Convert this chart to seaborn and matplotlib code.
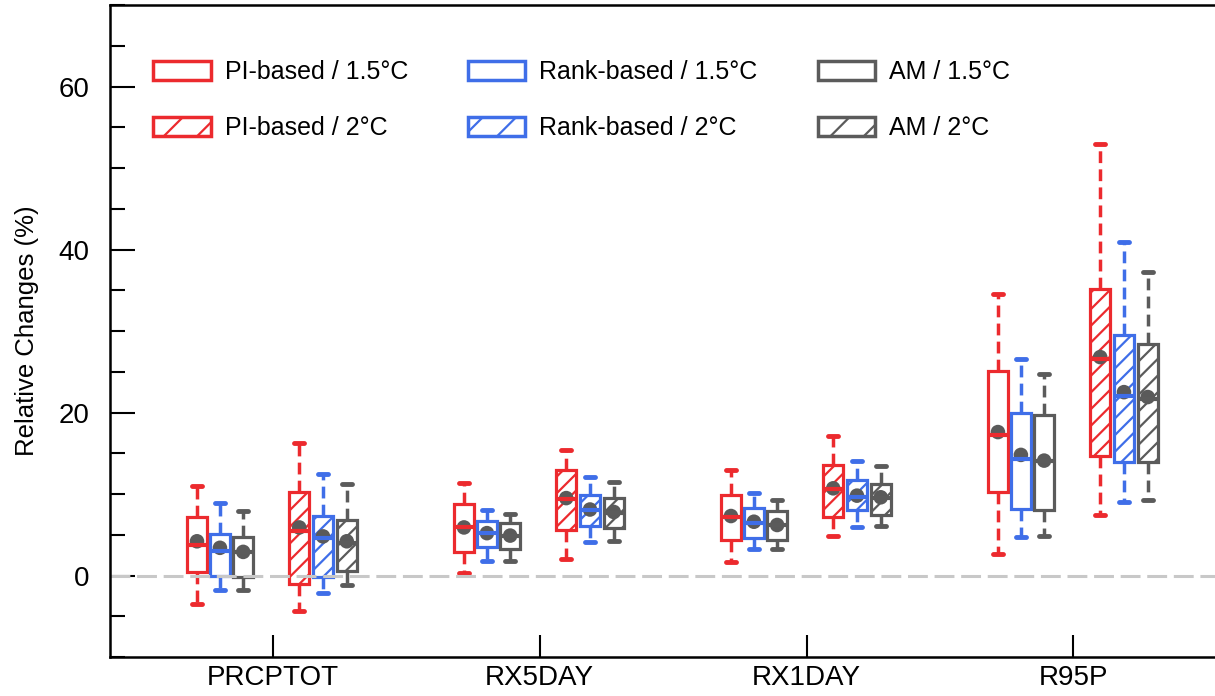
import numpy as np
import pandas as pd
import matplotlib.pyplot as plt
import matplotlib.patches as mpatches
from matplotlib.ticker import MultipleLocator
import seaborn as sns

# ── Data ──────────────────────────────────────────────────
INDICES = ["PRCPTOT", "RX5DAY", "RX1DAY", "R95P"]

# each box: (lower whisker, q1, median, q3, upper whisker), one per index
PI_15 = [(-3.5, 0.4, 3.8, 7.2, 11.0), (0.3, 2.9, 5.9, 8.8, 11.3),
         (1.6, 4.3, 7.2, 9.9, 13.0), (2.7, 10.2, 17.2, 25.1, 34.6)]
RANK_15 = [(-1.8, 0.0, 3.0, 5.1, 8.9), (1.8, 3.5, 5.2, 6.7, 8.0),
           (3.2, 4.6, 6.4, 8.3, 10.1), (4.7, 8.2, 14.3, 20.0, 26.6)]
AM_15 = [(-1.8, -0.2, 2.9, 4.7, 7.9), (1.8, 3.3, 4.9, 6.5, 7.6),
         (3.3, 4.3, 6.2, 7.9, 9.3), (4.9, 8.0, 14.0, 19.7, 24.7)]
PI_20 = [(-4.3, -1.1, 5.5, 10.3, 16.2), (2.0, 5.6, 9.4, 12.9, 15.4),
         (4.9, 7.2, 10.6, 13.6, 17.1), (7.4, 14.7, 26.6, 35.2, 53.0)]
RANK_20 = [(-2.2, -0.2, 4.6, 7.3, 12.5), (4.1, 6.1, 8.0, 9.9, 12.1),
           (5.9, 8.0, 9.6, 11.7, 14.0), (9.0, 13.9, 22.0, 29.5, 40.9)]
AM_20 = [(-1.2, 0.6, 4.0, 6.8, 11.2), (4.2, 5.8, 7.7, 9.5, 11.5),
         (6.1, 7.4, 9.5, 11.2, 13.4), (9.3, 13.9, 21.7, 28.4, 37.3)]

PI_15_MEAN = [4.2, 5.9, 7.3, 17.6]
RANK_15_MEAN = [3.4, 5.2, 6.6, 14.8]
AM_15_MEAN = [2.9, 4.9, 6.2, 14.1]
PI_20_MEAN = [5.9, 9.5, 10.7, 26.8]
RANK_20_MEAN = [4.8, 8.1, 9.8, 22.5]
AM_20_MEAN = [4.2, 7.8, 9.6, 21.9]

# ── Style ─────────────────────────────────────
RED, BLUE, GREY = "#EC2A2E", "#3F6EE8", "#5B5B5B"
DOT = "#5A5A5A"

SERIES = [
    # label, boxes, means, colour, hatch, offset
    ("PI-based / 1.5°C", PI_15, PI_15_MEAN, RED, "", -0.283),
    ("Rank-based / 1.5°C", RANK_15, RANK_15_MEAN, BLUE, "", -0.197),
    ("AM / 1.5°C", AM_15, AM_15_MEAN, GREY, "", -0.110),
    ("PI-based / 2°C", PI_20, PI_20_MEAN, RED, "//", 0.100),
    ("Rank-based / 2°C", RANK_20, RANK_20_MEAN, BLUE, "//", 0.189),
    ("AM / 2°C", AM_20, AM_20_MEAN, GREY, "//", 0.278),
]

sns.set_theme(style="ticks")
plt.rcParams["font.family"] = ["Liberation Sans", "DejaVu Sans"]
plt.rcParams["hatch.linewidth"] = 1.6
plt.rcParams["text.color"] = "black"
plt.rcParams["axes.labelcolor"] = "black"

fig = plt.figure(figsize=(12.15, 6.96), dpi=100)
ax = fig.add_axes([0.0905, 0.056, 0.9095, 0.9368])

for label, boxes, means, colour, hatch, offset in SERIES:
    rows = []
    for i, stats in enumerate(boxes):
        for v in stats:
            rows.append({"pos": i + offset, "value": v})
    df = pd.DataFrame(rows)

    n_before = len(ax.patches)
    sns.boxplot(
        data=df, x="pos", y="value", orient="x", native_scale=True,
        whis=(0, 100), width=0.074, color="white", linecolor=colour,
        linewidth=2.3, showfliers=False, ax=ax,
        whiskerprops=dict(linewidth=2.5, linestyle=(0, (3.4, 1.8))),
        capprops=dict(linewidth=3.5, solid_capstyle="round"),
        medianprops=dict(linewidth=3),
    )
    for p in ax.patches[n_before:]:
        p.set_edgecolor(colour)
        p.set_hatch(hatch)

    sns.scatterplot(
        x=[i + offset for i in range(len(INDICES))], y=means,
        color=DOT, s=110, edgecolor="none", zorder=2.05, ax=ax, legend=False,
    )

ax.axhline(0, color="#C8C8C8", lw=2.2, ls=(0, (6.5, 2.2)), zorder=2.5)

# ── Axes ──────────────────────────────────────
ax.set_xlim(-0.609, 3.53)
ax.set_ylim(-10, 70)
ax.set_xticks(range(len(INDICES)))
ax.set_xticklabels(INDICES)
ax.yaxis.set_major_locator(MultipleLocator(20))
ax.yaxis.set_minor_locator(MultipleLocator(5))
ax.set_xlabel("")
ax.set_ylabel("Relative Changes (%)", fontsize=18.5, labelpad=14)

ax.tick_params(axis="y", which="major", direction="in", length=18, width=1.5,
               labelsize=20, pad=15, color="black", labelcolor="black")
ax.tick_params(axis="y", which="minor", direction="in", length=10.8, width=1.5,
               color="black")
ax.tick_params(axis="x", which="major", direction="in", length=16, width=1.5,
               labelsize=20, pad=6, color="black", labelcolor="black")
ax.tick_params(axis="x", which="minor", bottom=False)

for side in ["left", "bottom", "top"]:
    ax.spines[side].set_linewidth(1.8)
    ax.spines[side].set_color("black")
ax.spines["right"].set_visible(False)

# ── Legend ────────────────────────────────────
order = [0, 3, 1, 4, 2, 5]
handles = [
    mpatches.Patch(facecolor="white", edgecolor=SERIES[k][3], linewidth=2.5,
                   hatch=SERIES[k][4][:1], label=SERIES[k][0])
    for k in order
]
ax.legend(handles=handles, ncol=3, loc="upper left",
          bbox_to_anchor=(0.039, 0.916), frameon=False, fontsize=18,
          handlelength=2.3, handleheight=0.8, handletextpad=0.56,
          columnspacing=2.4, labelspacing=1.3, borderpad=0, borderaxespad=0)

fig.savefig("out.png", dpi=100)
